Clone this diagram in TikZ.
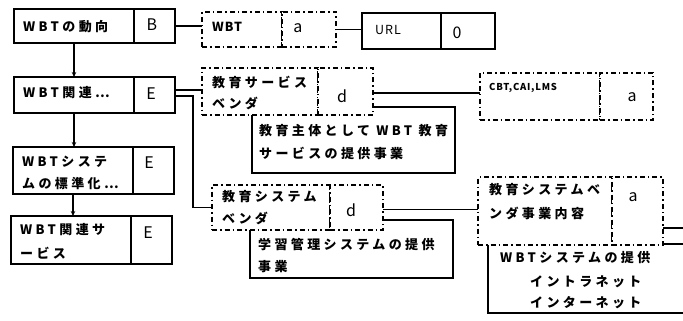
\documentclass[tikz,border=0pt]{standalone}
\usepackage{fontspec}
\setmainfont{Noto Sans CJK JP}[LetterSpace=26]
\newfontfamily\plainlat{Noto Sans CJK JP}[LetterSpace=8]
\usetikzlibrary{arrows.meta}
\begin{document}
\begin{tikzpicture}[x=1pt,y=-1pt,
  sbox/.style={draw, line width=1.7pt, fill=white, anchor=north west, inner sep=0pt, outer sep=0pt},
  dbox/.style={draw, line width=1.2pt, dash pattern=on 5pt off 3pt on 1.5pt off 3pt, fill=white, anchor=north west, inner sep=0pt, outer sep=0pt},
  jt/.style={font=\fontsize{13}{14}\selectfont\bfseries, anchor=west, inner sep=0pt},
  lt/.style={font=\plainlat\fontsize{16}{16}\selectfont, inner sep=0pt},
  conn/.style={line width=1.5pt},
  arr/.style={line width=1.3pt, -{Stealth[length=5pt,width=4.5pt]}}
]
\useasboundingbox (0,0) rectangle (683,321);
\clip (0,0) rectangle (683,321);

% left column (solid)
\node[sbox, minimum width=120pt, minimum height=34pt] (b1l) at (14,9) {};
\node[sbox, minimum width=41pt,  minimum height=34pt] (b1r) at (134,9) {};
\node[sbox, minimum width=120pt, minimum height=36pt] (b2l) at (14,77) {};
\node[sbox, minimum width=41pt,  minimum height=36pt] (b2r) at (134,77) {};
\node[sbox, minimum width=120pt, minimum height=47pt] (b3l) at (13,147) {};
\node[sbox, minimum width=41pt,  minimum height=47pt] (b3r) at (133,147) {};
\node[sbox, minimum width=120pt, minimum height=48pt] (b4l) at (11,216) {};
\node[sbox, minimum width=41pt,  minimum height=48pt] (b4r) at (131,216) {};

% URL box (solid)
\node[sbox, minimum width=79pt, minimum height=36pt] (urll) at (362,13) {};
\node[sbox, minimum width=54pt, minimum height=36pt] (urlr) at (441,13) {};

% solid content boxes (partly hidden behind dashed boxes)
\node[sbox, minimum width=203pt, minimum height=66pt] (s1) at (252,107) {};
\node[sbox, minimum width=203pt, minimum height=58pt] (s2) at (250,220) {};
\node[sbox, minimum width=260pt, minimum height=69pt] (s3) at (488,244) {};

% dashed boxes
\node[dbox, minimum width=80pt,  minimum height=35pt] (d1l) at (202,12) {};
\node[dbox, minimum width=54pt,  minimum height=35pt] (d1r) at (282,12) {};
\node[dbox, minimum width=116pt, minimum height=47pt] (d2l) at (202,68) {};
\node[dbox, minimum width=55pt,  minimum height=47pt] (d2r) at (318,68) {};
\node[dbox, minimum width=120pt, minimum height=47pt] (d3l) at (480,73) {};
\node[dbox, minimum width=53pt,  minimum height=47pt] (d3r) at (600,73) {};
\node[dbox, minimum width=118pt, minimum height=45pt] (d4l) at (212,185) {};
\node[dbox, minimum width=53pt,  minimum height=45pt] (d4r) at (330,185) {};
\node[dbox, minimum width=134pt, minimum height=68pt] (d5l) at (478,177) {};
\node[dbox, minimum width=51pt,  minimum height=68pt] (d5r) at (612,177) {};

% texts
\node[jt] (t1) at (23,27) {WBTの動向};
\node[jt] (t2) at (23,93) {WBT関連…};
\node[jt] (t3a) at (22,162) {WBTシステ};
\node[jt] (t3b) at (22,184) {ムの標準化…};
\node[jt] (t4a) at (20,230) {WBT関連サ};
\node[jt] (t4b) at (20,253) {ービス};
\node[lt] (lB) at (152,25) {B};
\node[lt] (lE1) at (151,94) {E};
\node[lt] (lE2) at (149,163) {E};
\node[lt] (lE3) at (148,233) {E};

\node[jt, font=\plainlat\fontsize{12.5}{13}\selectfont\bfseries] (tw) at (212,27) {WBT};
\node[lt] (la1) at (298,28) {a};
\node[jt, font=\plainlat\fontsize{12.5}{13}\selectfont] (tu) at (375,30) {URL};
\node[lt] (l0) at (457,33) {0};

\node[jt] (t5a) at (212,82) {教育サービス};
\node[jt] (t5b) at (212,103) {ベンダ};
\node[lt] (ld1) at (342,96) {d};
\node[jt] (t6a) at (259,131) {教育主体として WBT 教育};
\node[jt] (t6b) at (259,153) {サービスの提供事業};

\node[jt, font=\plainlat\fontsize{9.5}{10}\selectfont\bfseries] (t7) at (489,88) {CBT,CAI,LMS};
\node[lt] (la2) at (632,97) {a};

\node[jt] (t8a) at (222,197) {教育システム};
\node[jt] (t8b) at (222,218) {ベンダ};
\node[lt] (ld2) at (351,210) {d};
\node[jt] (t9a) at (258,245) {学習管理システムの提供};
\node[jt] (t9b) at (258,267) {事業};

\node[jt] (t10a) at (489,190) {教育システムベ};
\node[jt] (t10b) at (489,213) {ンダ事業内容};
\node[lt] (la3) at (633,197) {a};
\node[jt] (t11a) at (500,258) {WBTシステムの提供};
\node[jt] (t11b) at (530,282) {イントラネット};
\node[jt] (t11c) at (530,303) {インターネット};

% connectors
\coordinate (edge) at (683,228);
\draw[conn] (b1r.east) -- (b1r.east -| d1l.west);
\draw[conn] (d1r.east) -- (d1r.east -| urll.west);
\draw[conn] ([yshift=5pt]b2r.east) -- ([yshift=5pt]b2r.east -| d2l.west);
\draw[conn] ([yshift=-1pt]b2r.east) -- ++(18,0) |- (d4l.west);
\draw[conn] ([yshift=-1.5pt]d2r.east) -- ([yshift=-1.5pt]d2r.east -| d3l.west);
\draw[conn] ([yshift=-2pt]d4r.east) -- ([yshift=-2pt]d4r.east -| d5l.west);
\draw[conn] (edge -| d5r.east) -- (edge);
\draw[arr] (b1l.south) -- (b1l.south |- b2l.north);
\draw[arr] (b2l.south) -- (b2l.south |- b3l.north);
\draw[arr] (b3l.south) -- (b3l.south |- b4l.north);
\end{tikzpicture}
\end{document}
